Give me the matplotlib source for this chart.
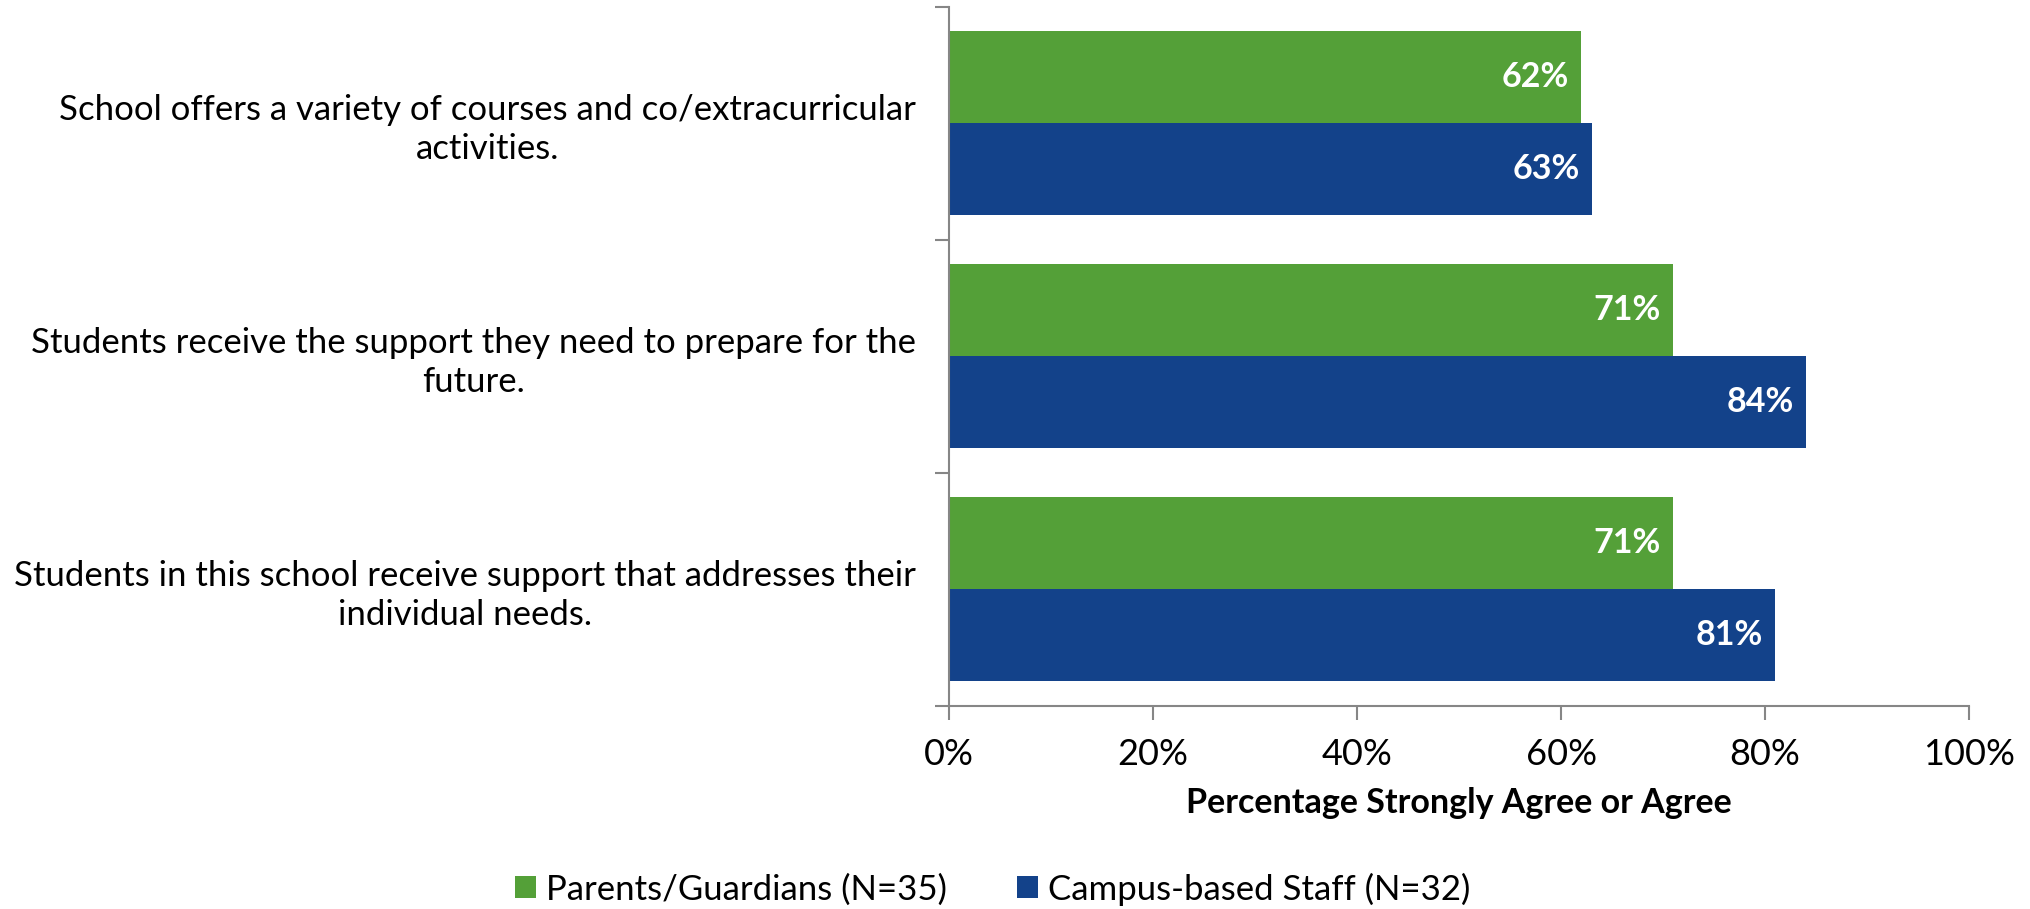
import matplotlib
matplotlib.use('Agg')
import matplotlib.pyplot as plt
import numpy as np

plt.rcParams['font.family'] = ['Lato', 'DejaVu Sans']

categories = ['School offers a variety of courses and co/extracurricular\nactivities.',
              'Students receive the support they need to prepare for the\nfuture.',
              'Students in this school receive support that addresses their\nindividual needs.']
parents = [62, 71, 71]
staff = [63, 84, 81]
series_names = ['Parents/Guardians (N=35)', 'Campus-based Staff (N=32)']

green = '#54A038'
blue = '#13428A'
grey = '#868686'

fig = plt.figure(figsize=(20.3, 9.09), dpi=100)
ax = fig.add_axes([0.4675, 0.2238, 0.5025, 0.769])

y = np.arange(len(categories))
h = 0.394
b1 = ax.barh(y - h / 2, parents, height=h, color=green, label=series_names[0])
b2 = ax.barh(y + h / 2, staff, height=h, color=blue, label=series_names[1])

for bars in (b1, b2):
    for bar in bars:
        w = bar.get_width()
        ax.text(w - 1.2, bar.get_y() + bar.get_height() / 2, f'{w:.0f}%',
                ha='right', va='center', color='white', fontsize=24.5, fontweight='bold')

ax.set_xlim(0, 100)
ax.set_ylim(2.5, -0.5)
ax.set_xticks([0, 20, 40, 60, 80, 100])
ax.set_xticklabels(['0%', '20%', '40%', '60%', '80%', '100%'], fontsize=26)
ax.set_yticks(y)
ax.set_yticklabels(categories, fontsize=25, multialignment='center', linespacing=1.25)
ax.set_yticks([-0.5, 0.5, 1.5, 2.5], minor=True)
ax.tick_params(axis='y', which='major', length=0, pad=24)
ax.tick_params(axis='y', which='minor', length=10, color=grey, width=1.5)
ax.tick_params(axis='x', length=10, color=grey, width=1.5, pad=13, direction='out')

for s in ['top', 'right']:
    ax.spines[s].set_visible(False)
for s in ['left', 'bottom']:
    ax.spines[s].set_color(grey)
    ax.spines[s].set_linewidth(1.5)

ax.set_xlabel('Percentage Strongly Agree or Agree', fontsize=24.5, fontweight='bold', labelpad=12)

fig.legend(handles=[b1, b2], labels=series_names, loc='center', bbox_to_anchor=(0.489, 0.022),
           ncol=2, frameon=False, fontsize=25, handlelength=0.6, handleheight=0.6,
           handletextpad=0.3, columnspacing=2.0)

fig.savefig('out.png', dpi=100)
